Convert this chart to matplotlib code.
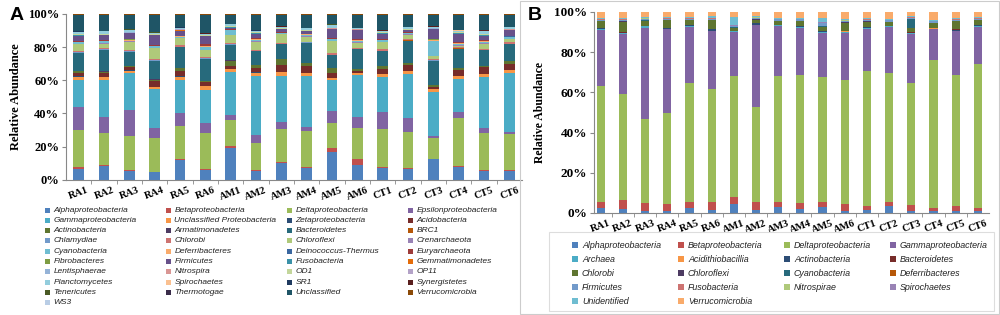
import matplotlib.pyplot as plt
from matplotlib.patches import Rectangle
import numpy as np

samples = ['RA1', 'RA2', 'RA3', 'RA4', 'RA5', 'RA6', 'AM1', 'AM2', 'AM3',
           'AM4', 'AM5', 'AM6', 'CT1', 'CT2', 'CT3', 'CT4', 'CT5', 'CT6']

# ---- panel A: phylum / class level (segment sizes, %) ----
a_alpha = [7, 8.7, 5.4, 4.6, 12.3, 6.4, 19.7, 5.6, 10.5, 7.6, 17.5, 9, 7.4, 7, 12.7, 8, 5.6, 5.6]
a_beta = [1, 0.8, 0.6, 0.4, 0.5, 0.6, 1.3, 0.4, 0.5, 0.4, 2.5, 4, 0.6, 0.5, 0.5, 0.5, 0.4, 0.6]
a_delta = [23, 19.5, 21, 21, 20.8, 22, 16.4, 17, 20.6, 22, 15.2, 18.8, 23.6, 22.1, 12.6, 30.1, 23.2, 22]
a_epsilon = [14, 10, 16, 6, 8, 6, 3, 5, 4.4, 3, 7.8, 6.8, 10.7, 8.6, 1.6, 3.7, 3, 1.4]
a_gamma = [17, 23, 23, 24, 20.4, 21, 26.6, 36.4, 28.4, 31, 19, 26.2, 21.7, 27.2, 26.9, 20.1, 32.2, 36.2]
a_unclprot = [2, 1.5, 1.5, 1.5, 2, 2.3, 2, 2, 2, 2, 1.4, 1.2, 1.4, 2, 1.7, 2, 1.6, 2]
a_zeta = [0.2, 0.1, 0.2, 0.1, 0.2, 0.1, 0.2, 0.1, 0.1, 0.2, 0.1, 0.1, 0.2, 0.1, 0.2, 0.1, 0.1, 0.2]
a_acido = [2, 2.5, 2, 3.5, 3, 2.5, 1.4, 3, 4.6, 4, 2.6, 1.4, 3, 3.6, 1.3, 4, 4, 3.6]
a_actino = [1.5, 1, 0.5, 1, 2, 0.7, 3.6, 1.4, 3.5, 2, 3.4, 1, 2, 1.4, 1.1, 1, 1, 1.4]
a_armat = [0.1, 0.1, 0, 0.1, 0.1, 0, 0.1, 0.1, 0, 0.1, 0.1, 0, 0.1, 0.1, 0, 0.1, 0.1, 0]
a_bacter = [11, 13.5, 9, 11.5, 13, 13.5, 9.5, 8.7, 9.2, 12.5, 7.6, 12.1, 9.1, 13.6, 15, 11.9, 9.5, 10.7]
a_brc1 = [0.1, 0, 0.1, 0.1, 0, 0.1, 0, 0.1, 0.1, 0, 0.1, 0.1, 0, 0.1, 0, 0.1, 0, 0.1]
a_chlamyd = [0.2, 0.2, 0.1, 0.2, 0.1, 0.2, 0.5, 0.2, 0.1, 0.2, 0.2, 0.1, 0.2, 0.1, 0.2, 0.1, 0.2, 0.1]
a_chlorobi = [1, 1, 1, 1, 1, 1, 0.5, 0.5, 0.8, 0.5, 1, 1, 1, 1, 0.6, 0.7, 1, 1]
a_chlorofl = [4, 2.5, 5, 6.5, 4.5, 4, 5, 5, 5, 3, 7.5, 3, 4.5, 2.3, 1.9, 1, 3, 2]
a_crenar = [0.2, 0.3, 0.2, 0.3, 0.2, 0.2, 0.2, 0.3, 0.2, 0.2, 0.3, 0.2, 0.2, 0.3, 0.2, 0.2, 0.3, 0.2]
a_cyano = [1, 1, 0.5, 1, 0.5, 2, 3, 1, 0.5, 1, 1, 1, 1, 0.7, 9.6, 1, 1, 1]
a_deferri = [0.2, 0.3, 0.2, 0.2, 0.2, 0.3, 0.2, 0.2, 0.2, 0.3, 0.2, 0.2, 0.2, 0.3, 0.2, 0.2, 0.3, 0.2]
a_deino = [0.1, 0.1, 0.1, 0.1, 0.1, 0.1, 0.1, 0.1, 0.1, 0.1, 0.1, 0.1, 0.1, 0.1, 0.1, 0.1, 0.1, 0.1]
a_eury = [0.3, 0.5, 0.3, 0.5, 0.3, 1.0, 0.3, 0.4, 0.3, 0.4, 0.3, 0.8, 0.3, 0.4, 0.3, 1.0, 0.8, 0.4]
a_fibro = [0.1, 0, 0.1, 0, 0.1, 0, 0.1, 0, 0.1, 0, 0.1, 0, 0.1, 0, 0.1, 0, 0.1, 0]
a_firmic = [3.5, 3, 4, 6, 3, 5, 1, 3, 1.7, 1.5, 5.5, 5.5, 3.3, 1, 6.5, 5, 2.5, 3.5]
a_fuso = [0.1, 0.1, 0.1, 0.1, 0.1, 0.1, 0.1, 0.1, 0.1, 0.1, 0.1, 0.1, 0.1, 0.1, 0.1, 0.1, 0.1, 0.1]
a_gemma = [0.1, 0.2, 0.1, 0.2, 0.1, 0.2, 0.1, 0.2, 0.1, 0.2, 0.1, 0.2, 0.1, 0.2, 0.1, 0.2, 0.1, 0.2]
a_lenti = [0.1, 0, 0.1, 0, 0.1, 0, 0.1, 0, 0.1, 0, 0.1, 0, 0.1, 0, 0.1, 0, 0.1, 0]
a_nitro = [0.2, 0.1, 0.2, 0.1, 0.2, 0.1, 0.2, 0.1, 0.2, 0.1, 0.2, 0.1, 0.2, 0.1, 0.2, 0.1, 0.2, 0.1]
a_od1 = [0.3, 0.3, 0.2, 0.3, 0.3, 0.2, 0.3, 0.3, 0.2, 0.3, 0.3, 0.2, 0.3, 0.3, 0.2, 0.3, 0.3, 0.2]
a_op11 = [0.1, 0.1, 0.1, 0.1, 0.1, 0.1, 0.1, 0.1, 0.1, 0.1, 0.1, 0.1, 0.1, 0.1, 0.1, 0.1, 0.1, 0.1]
a_plancto = [1.5, 1.5, 1, 0.5, 1, 1, 1, 1, 0.8, 1, 1.5, 0.5, 0.7, 1, 0.5, 1, 2, 1]
a_spiro = [0.1, 0.1, 0.1, 0.1, 0.1, 0.1, 0.1, 0.1, 0.1, 0.1, 0.1, 0.1, 0.1, 0.1, 0.1, 0.1, 0.1, 0.1]
a_sr1 = [0.1, 0.1, 0, 0.1, 0.1, 0, 0.1, 0.1, 0, 0.1, 0.1, 0, 0.1, 0.1, 0, 0.1, 0.1, 0]
a_synerg = [0.2, 0.1, 0.2, 0.1, 0.2, 0.1, 0.2, 0.1, 0.2, 0.1, 0.2, 0.1, 0.2, 0.1, 0.2, 0.1, 0.2, 0.1]
a_teneri = [0.1, 0.1, 0.1, 0.1, 0.1, 0.1, 0.1, 0.1, 0.1, 0.1, 0.1, 0.1, 0.1, 0.1, 0.1, 0.1, 0.1, 0.1]
a_thermo = [0.1, 0, 0.1, 0, 0.1, 0, 0.1, 0, 0.1, 0, 0.1, 0, 0.1, 0, 0.1, 0, 0.1, 0]
a_uncl = [10, 9.7, 9, 10.5, 7.5, 11, 5.5, 9.5, 7, 8, 6, 8, 9.5, 7.5, 7, 9.5, 9.5, 7.5]
a_verruco = [0.5, 0.8, 0.5, 1, 0.5, 1, 0.5, 0.5, 0.5, 0.5, 0.5, 0.5, 0.5, 0.5, 0.5, 0.5, 0.5, 0.5]
a_ws3 = [0, 0, 0, 0, 0, 0, 0, 0, 0, 0, 0, 0, 0, 0, 0, 0, 0, 0]

a_names = ['Alphaproteobacteria', 'Betaproteobacteria', 'Deltaproteobacteria', 'Epsilonproteobacteria',
           'Gammaproteobacteria', 'Unclassified Proteobacteria', 'Zetaproteobacteria', 'Acidobacteria',
           'Actinobacteria', 'Armatimonadetes', 'Bacteroidetes', 'BRC1',
           'Chlamydiae', 'Chlorobi', 'Chloroflexi', 'Crenarchaeota',
           'Cyanobacteria', 'Deferribacteres', 'Deinococcus-Thermus', 'Euryarchaeota',
           'Fibrobacteres', 'Firmicutes', 'Fusobacteria', 'Gemmatimonadetes',
           'Lentisphaerae', 'Nitrospira', 'OD1', 'OP11',
           'Planctomycetes', 'Spirochaetes', 'SR1', 'Synergistetes',
           'Tenericutes', 'Thermotogae', 'Unclassified', 'Verrucomicrobia', 'WS3']
a_values = [a_alpha, a_beta, a_delta, a_epsilon, a_gamma, a_unclprot, a_zeta, a_acido,
            a_actino, a_armat, a_bacter, a_brc1, a_chlamyd, a_chlorobi, a_chlorofl, a_crenar,
            a_cyano, a_deferri, a_deino, a_eury, a_fibro, a_firmic, a_fuso, a_gemma,
            a_lenti, a_nitro, a_od1, a_op11, a_plancto, a_spiro, a_sr1, a_synerg,
            a_teneri, a_thermo, a_uncl, a_verruco, a_ws3]

# ---- panel B (segment sizes, %) ----
b_alpha = [2.5, 2, 1.2, 1.2, 2.3, 1.5, 4.6, 1.3, 3, 2, 3, 1.2, 1.7, 3.3, 1.2, 1, 1.2, 0.8]
b_beta = [2.8, 4.6, 3.8, 3.3, 3, 3.8, 3.3, 4, 2.3, 2.8, 2.6, 3.4, 1.9, 2.2, 2.8, 1.5, 2.1, 1.7]
b_delta = [58.4, 53, 42.5, 46, 60.1, 57.3, 61.6, 48, 64.2, 65.2, 63.1, 62.1, 67.6, 65.2, 61.6, 74.8, 66.2, 72.8]
b_gamma = [28.5, 30.3, 45.7, 42.2, 28.6, 29.1, 22.1, 41.1, 25.2, 24, 22.3, 23.5, 21.2, 23.3, 24.6, 15.4, 22.1, 18.7]
b_archaea = [0.3, 0.2, 0.8, 0.3, 0.3, 0.3, 0.3, 0.2, 0.3, 0.3, 0.3, 0.8, 0.3, 0.2, 0.3, 0.3, 0.2, 0.3]
b_acidithio = [0.1, 0.1, 0.1, 0.1, 0.1, 0.1, 0.1, 0.1, 0.1, 0.1, 0.1, 0.1, 0.1, 0.1, 0.1, 0.1, 0.1, 0.1]
b_actino = [0.3, 0.3, 0.2, 0.3, 0.2, 0.8, 0.2, 1.0, 0.2, 0.3, 0.2, 0.2, 0.3, 0.2, 0.2, 0.3, 0.5, 0.2]
b_bacter = [0.1, 0.2, 0.1, 0.1, 0.1, 0.1, 0.1, 0.1, 0.1, 0.1, 0.1, 0.1, 0.1, 0.1, 0.1, 0.1, 0.1, 0.1]
b_chlorobi = [3.5, 5.3, 2.5, 3.8, 2.5, 4.3, 1.4, 1.6, 1.7, 2.4, 2.2, 4.2, 2.8, 1.7, 2.2, 2.2, 4.1, 2.5]
b_chlorofl = [0.1, 0.2, 0.1, 0.1, 0.1, 0.1, 0.1, 0.1, 0.1, 0.1, 0.1, 0.1, 0.1, 0.1, 0.1, 0.1, 0.1, 0.1]
b_cyano = [0.1, 0.1, 0.1, 0.1, 0.1, 0.1, 0.1, 0.1, 0.1, 0.1, 0.1, 0.1, 0.1, 0.1, 4.5, 0.1, 0.1, 0.1]
b_deferri = [0.1, 0.1, 0.1, 0.1, 0.1, 0.1, 0.1, 0.1, 0.1, 0.1, 0.1, 0.1, 0.1, 0.1, 0.1, 0.1, 0.1, 0.1]
b_firmic = [0.6, 0.6, 0.7, 0.6, 0.6, 0.6, 0.5, 0.6, 0.6, 0.6, 1.5, 0.6, 0.7, 0.6, 0.6, 0.6, 0.6, 0.6]
b_fuso = [0.1, 0.1, 0.1, 0.1, 0.1, 0.1, 0.1, 0.1, 0.1, 0.1, 0.1, 0.1, 0.1, 0.1, 0.1, 0.1, 0.1, 0.1]
b_nitro = [0.2, 0.2, 0.2, 0.2, 0.2, 0.2, 0.2, 0.2, 0.2, 0.2, 0.2, 0.2, 0.2, 0.2, 0.2, 0.2, 0.2, 0.2]
b_spiro = [0.1, 0.1, 0.1, 0.1, 0.1, 0.1, 0.1, 0.1, 0.1, 0.1, 0.1, 0.1, 0.1, 0.1, 0.1, 0.1, 0.1, 0.1]
b_unident = [0.4, 0.4, 0.5, 0.4, 0.4, 0.9, 4.2, 0.5, 0.4, 0.4, 2.3, 0.5, 0.4, 0.4, 0.4, 0.4, 0.4, 0.4]
b_verruco = [3, 3, 2.5, 2.5, 2.5, 2, 2.6, 2, 3, 3, 3, 3.5, 3, 3.5, 2, 4, 3, 2.5]

b_names = ['Alphaproteobacteria', 'Betaproteobacteria', 'Deltaproteobacteria', 'Gammaproteobacteria',
           'Archaea', 'Acidithiobacillia', 'Actinobacteria', 'Bacteroidetes',
           'Chlorobi', 'Chloroflexi', 'Cyanobacteria', 'Deferribacteres',
           'Firmicutes', 'Fusobacteria', 'Nitrospirae', 'Spirochaetes',
           'Unidentified', 'Verrucomicrobia']
b_values = [b_alpha, b_beta, b_delta, b_gamma, b_archaea, b_acidithio, b_actino, b_bacter,
            b_chlorobi, b_chlorofl, b_cyano, b_deferri, b_firmic, b_fuso, b_nitro, b_spiro,
            b_unident, b_verruco]

# Excel 2010 style series colours
palette = ['#4F81BD', '#C0504D', '#9BBB59', '#8064A2', '#4BACC6', '#F79646',
           '#2C4D75', '#772C2A', '#5F7530', '#4D3B62', '#276A7C', '#B65708',
           '#729ACA', '#CD7371', '#AFC97A', '#9983B5', '#6FBDD1', '#F9AB6B',
           '#3A67A0', '#9E3B39', '#7E9C43', '#67518A', '#3A91A8', '#E46C0A',
           '#95B3D7', '#D99694', '#C3D69B', '#B3A2C7', '#93CDDD', '#FAC090',
           '#1F3A5F', '#5A1F1E', '#4A5A25', '#3A2C4A', '#1F5566', '#8B4A08',
           '#B9CDE5']

serif = 'Liberation Serif'
sans = 'Liberation Sans'

fig = plt.figure(figsize=(10, 3.15), dpi=100)


def stacked(ax, values, width):
    data = np.array(values, dtype=float)
    data = data / data.sum(axis=0) * 100  # 100% stacked
    x = np.arange(len(samples))
    bottom = np.zeros(len(samples))
    for i, row in enumerate(data):
        ax.bar(x, row, width, bottom=bottom, color=palette[i], linewidth=0)
        bottom += row
    ax.set_ylim(0, 100)
    ax.set_yticks(range(0, 101, 20))
    ax.set_yticklabels([f'{v}%' for v in range(0, 101, 20)])
    ax.set_xticks(x)
    ax.set_xticklabels(samples, rotation=20, ha='center')
    ax.set_xticks(x[:-1] + 0.5, minor=True)
    ax.tick_params(axis='x', which='major', length=0, pad=4)
    ax.tick_params(axis='x', which='minor', length=3, color='#888888')
    ax.tick_params(axis='y', length=3, color='#888888', pad=2)
    for s in ['top', 'right']:
        ax.spines[s].set_visible(False)
    for s in ['left', 'bottom']:
        ax.spines[s].set_color('#888888')
    for lab in ax.get_xticklabels() + ax.get_yticklabels():
        lab.set_fontfamily(serif)
        lab.set_fontweight('bold')


def legend_grid(names, x0, y0, dx, dy, size, fs):
    for i, name in enumerate(names):
        c, r = i % 4, i // 4
        x = x0 + c * dx
        y = y0 + r * dy
        fig.add_artist(Rectangle(((x - size / 2) / 1000, 1 - (y + size / 2) / 315),
                                 size / 1000, size / 315, transform=fig.transFigure,
                                 color=palette[i], lw=0))
        fig.text((x + size / 2 + 4) / 1000, 1 - y / 315, name, fontsize=fs,
                 family=sans, style='italic', va='center', ha='left', color='#222222')


# panel A
axA = fig.add_axes([0.066, 0.429, 0.456, 0.527])
stacked(axA, a_values, 0.42)
axA.set_xlim(-0.5, 17.5)
axA.tick_params(axis='y', labelsize=9)
axA.tick_params(axis='x', labelsize=7.5)
axA.set_ylabel('Relative Abundance', family=serif, fontweight='bold', fontsize=9, labelpad=4)
fig.text(0.010, 0.952, 'A', fontsize=14, fontweight='bold', family=sans, va='center')
legend_grid(a_names, 47, 210, 121, 10.3, 5, 6)

# panel B
axB = fig.add_axes([0.594, 0.324, 0.395, 0.638])
stacked(axB, b_values, 0.37)
axB.set_xlim(-0.3, 17.5)
axB.tick_params(axis='y', labelsize=9.5)
axB.tick_params(axis='x', labelsize=7.5)
axB.set_ylabel('Relative Abundance', family=serif, fontweight='bold', fontsize=8.5, labelpad=6)
fig.text(0.528, 0.952, 'B', fontsize=14, fontweight='bold', family=sans, va='center')
legend_grid(b_names, 575, 245, 106, 14, 6, 6.4)

# frames around panel B and its legend
fig.add_artist(Rectangle((0.549, 1 - 311 / 315), 0.445, 79 / 315, transform=fig.transFigure,
                         fill=False, ec='#dddddd', lw=0.8))
fig.add_artist(Rectangle((0.5195, 0.004), 0.479, 0.992, transform=fig.transFigure,
                         fill=False, ec='#cccccc', lw=0.8))

fig.savefig('out.png', dpi=100)
